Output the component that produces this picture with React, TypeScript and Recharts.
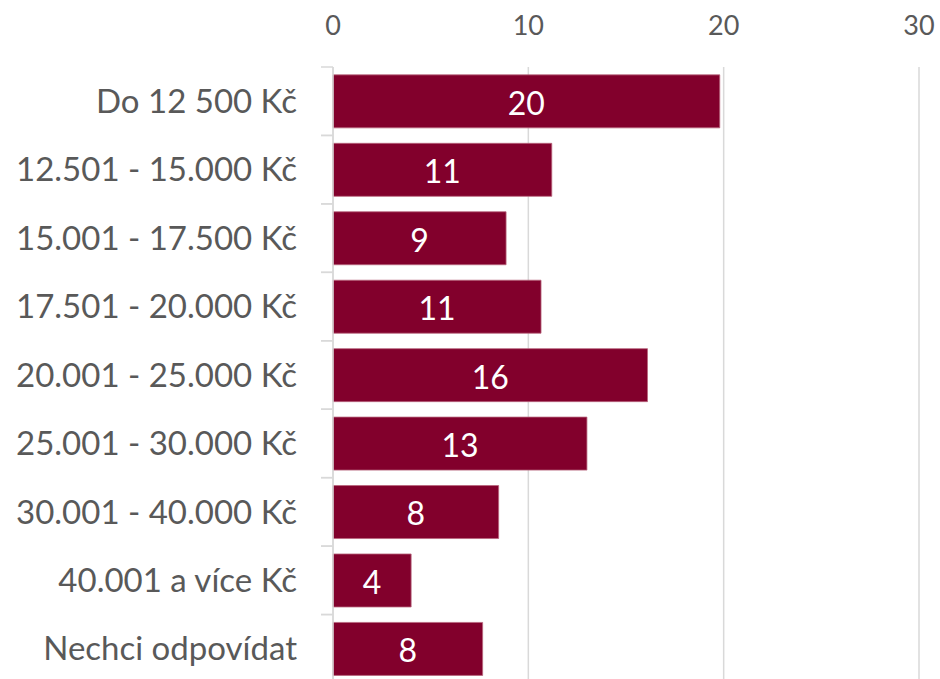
import React from "react";
import { BarChart, Bar, XAxis, YAxis, CartesianGrid, LabelList } from "recharts";

const categories = [
  "Do 12 500 Kč",
  "12.501 - 15.000 Kč",
  "15.001 - 17.500 Kč",
  "17.501 - 20.000 Kč",
  "20.001 - 25.000 Kč",
  "25.001 - 30.000 Kč",
  "30.001 - 40.000 Kč",
  "40.001 a více Kč",
  "Nechci odpovídat",
];
const values = [19.8, 11.2, 8.86, 10.65, 16.1, 13.0, 8.48, 4.0, 7.66];
const xTicks = [0, 10, 20, 30];

const data = categories.map((name, i) => ({ name, value: values[i] }));

const FONT = "Lato, 'Open Sans', sans-serif";
const W = 940;
const H = 683;
const TOP = 67;
const AXIS_X = 333;
const BAND = (H - TOP) / categories.length;

const TopTick = (props: any) => {
  const { x, payload } = props;
  return (
    <text x={x} y={35} textAnchor="middle" fill="#595959" fontSize={27} fontFamily={FONT}>
      {payload.value}
    </text>
  );
};

const CatTick = (props: any) => {
  const { y, payload } = props;
  return (
    <g>
      <line x1={AXIS_X - 12} x2={AXIS_X} y1={y - BAND / 2} y2={y - BAND / 2} stroke="#d9d9d9" strokeWidth={1.5} />
      <line x1={AXIS_X - 12} x2={AXIS_X} y1={y + BAND / 2} y2={y + BAND / 2} stroke="#d9d9d9" strokeWidth={1.5} />
      <text x={AXIS_X - 36} y={y} dy="0.355em" textAnchor="end" fill="#595959" fontSize={33} fontFamily={FONT}>
        {payload.value}
      </text>
    </g>
  );
};

export default function App() {
  return (
    <div style={{ position: "absolute", left: 0, top: 0, width: W, height: 679, overflow: "hidden", background: "#fff" }}>
      <BarChart
        width={W}
        height={H}
        data={data}
        layout="vertical"
        margin={{ top: 0, right: 21, bottom: 0, left: 0 }}
        barCategoryGap="11.5%"
        style={{ fontFamily: FONT }}
      >
        <CartesianGrid horizontal={false} stroke="#d9d9d9" strokeWidth={1.5} />
        <XAxis
          type="number"
          orientation="top"
          domain={[0, 30]}
          ticks={xTicks}
          height={TOP}
          axisLine={false}
          tickLine={false}
          tick={<TopTick />}
          interval={0}
        />
        <YAxis
          type="category"
          dataKey="name"
          width={AXIS_X}
          axisLine={{ stroke: "#d9d9d9", strokeWidth: 1.5 }}
          tickLine={false}
          tick={<CatTick />}
          interval={0}
        />
        <Bar dataKey="value" fill="#82002c" stroke="#b8647c" strokeWidth={0.8} isAnimationActive={false}>
          <LabelList
            dataKey="value"
            position="center"
            fill="#ffffff"
            fontSize={32}
            fontFamily={FONT}
            dy={2}
            formatter={(v: any) => Math.round(Number(v))}
          />
        </Bar>
      </BarChart>
    </div>
  );
}
